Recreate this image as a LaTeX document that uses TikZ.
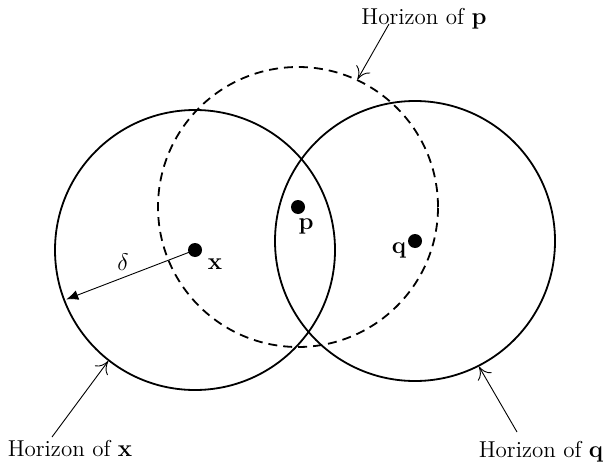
\documentclass[tikz,border=0pt]{standalone}
\usetikzlibrary{arrows.meta}
\begin{document}
\begin{tikzpicture}[x=0.5pt,y=-0.5pt,
  horizon/.style={circle,draw,line width=0.9pt,minimum size=140pt,inner sep=0pt},
  dot/.style={circle,fill,inner sep=0pt,minimum size=7pt},
  pointer/.style={-{To[length=6pt,width=8pt]},line width=0.45pt},
  every node/.append style={font=\fontsize{11.5}{14}\selectfont}]
\useasboundingbox (0,0) rectangle (608,470);
\node[horizon] (cx) at (195,250) {};
\node[horizon,dash pattern=on 4.5pt off 3pt] (cp) at (298,207) {};
\node[horizon] (cq) at (415,241) {};
\node[dot] (x) at (195,250) {};
\node[dot] (p) at (298,207) {};
\node[dot] (q) at (415,241) {};
\node (xl) at (215,264) {$\mathbf{x}$};
\node (pl) at (306,226) {$\mathbf{p}$};
\node (ql) at (399,250) {$\mathbf{q}$};
\draw[-{Latex[length=6pt,width=5pt]},line width=0.45pt,shorten >=1.5pt] (x.center) -- (cx.201.3);
\node (d) at (123,262) {$\delta$};
\node (hp) at (424,19) {Horizon of $\mathbf{p}$};
\node (hx) at (70,449) {Horizon of $\mathbf{x}$};
\node (hq) at (541,452) {Horizon of $\mathbf{q}$};
\coordinate (hps) at (389,24);
\coordinate (hxs) at (52,437);
\coordinate (hqs) at (517,432);
\draw[pointer] (hps) -- (cp.65.6);
\draw[pointer] (hxs) -- (cx.232);
\draw[pointer] (hqs) -- (cq.297.6);
\end{tikzpicture}
\end{document}
